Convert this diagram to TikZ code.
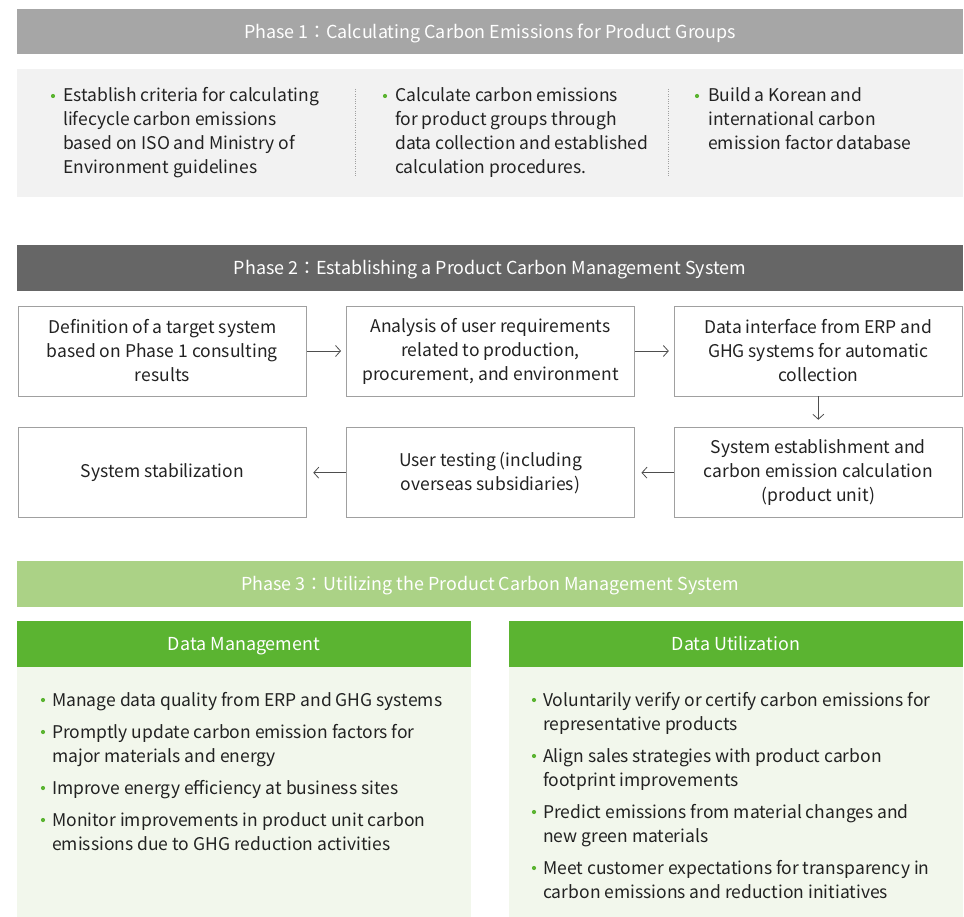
\documentclass[tikz,border=0pt]{standalone}
\usepackage{fontspec}
\setmainfont{Noto Sans CJK KR}
\usetikzlibrary{arrows.meta}

\definecolor{barone}{HTML}{A6A6A6}
\definecolor{bodyone}{HTML}{F2F2F2}
\definecolor{bartwo}{HTML}{666666}
\definecolor{barthree}{HTML}{ABD286}
\definecolor{leafgreen}{HTML}{5BB431}
\definecolor{bodythree}{HTML}{F2F7EC}
\definecolor{boxgray}{HTML}{A0A0A0}
\definecolor{inkgray}{HTML}{222222}

\begin{document}
\begin{tikzpicture}[x=1pt,y=-1pt,
  bar/.style={minimum width=946pt,minimum height=45.5pt,inner sep=0pt,text height=14pt,text depth=0pt,text=white,font=\fontsize{17.9}{20}\selectfont},
  subbar/.style={fill=leafgreen,minimum width=454pt,minimum height=45.5pt,inner sep=0pt,text height=14pt,text depth=0pt,text=white,font=\fontsize{17.9}{20}\selectfont},
  stepbox/.style={draw=boxgray,line width=0.9pt,minimum width=288pt,minimum height=90pt,align=center,inner sep=0pt,text=inkgray,font=\fontsize{17.5}{24}\selectfont},
  flow/.style={-{Straight Barb[length=5pt,width=11pt]},line width=0.8pt,draw=inkgray!80},
  itemtext/.style={anchor=base west,align=left,inner sep=0pt,text=inkgray,font=\fontsize{17.5}{24}\selectfont}]
  \useasboundingbox (0,0) rectangle (964,917);

  % phase 1
  \node[bar,fill=barone] (ph1) at (490,31.7) {Phase 1：Calculating Carbon Emissions for Product Groups};
  \fill[bodyone] (17,69) rectangle (963,197.5);
  \draw[dotted,boxgray] (355,89) -- (355,176);
  \draw[dotted,boxgray] (668,89) -- (668,176);
  % base = last line
  \node[itemtext] (crit) at (63,174) {Establish criteria for calculating\\lifecycle carbon emissions\\based on ISO and Ministry of\\Environment guidelines};
  \node[itemtext] (calc) at (395,174) {Calculate carbon emissions\\for product groups through\\data collection and established\\calculation procedures.};
  \node[itemtext] (dbase) at (708,150) {Build a Korean and\\international carbon\\emission factor database};
  \foreach \x in {53,385,697} \fill[leafgreen] (\x,96) circle (2.1);

  % phase 2
  \node[bar,fill=bartwo] (ph2) at (490,268) {Phase 2：Establishing a Product Carbon Management System};
  \node[stepbox] (target) at (162.3,351) {Definition of a target system\\based on Phase 1 consulting\\results};
  \node[stepbox] (needs) at (490.5,351) {Analysis of user requirements\\related to production,\\procurement, and environment};
  \node[stepbox] (iface) at (818.3,351) {Data interface from ERP and\\GHG systems for automatic\\collection};
  \node[stepbox] (build) at (818.3,472.7) {System establishment and\\carbon emission calculation\\(product unit)};
  \node[stepbox] (usertest) at (490.5,472.7) {User testing (including\\overseas subsidiaries)};
  \node[stepbox] (stable) at (162.3,472.7) {System stabilization};
  \draw[flow,shorten >=5pt] (target) -- (needs);
  \draw[flow,shorten >=5pt] (needs) -- (iface);
  \draw[flow,shorten >=7.5pt] (iface) -- (build);
  \draw[flow,shorten >=6.5pt] (build) -- (usertest);
  \draw[flow,shorten >=6.5pt] (usertest) -- (stable);

  % phase 3
  \node[bar,fill=barthree] (ph3) at (490,583.8) {Phase 3：Utilizing the Product Carbon Management System};
  \node[subbar] (mgmt) at (244,643.8) {Data Management};
  \node[subbar] (util) at (736,643.8) {Data Utilization};
  \fill[bodythree] (17,666.5) rectangle (471,917);
  \fill[bodythree] (509,666.5) rectangle (963,917);
  \node[itemtext] (mgmtlist) at (52,850) {Manage data quality from ERP and GHG systems\\[8pt]
    Promptly update carbon emission factors for\\major materials and energy\\[8pt]
    Improve energy efficiency at business sites\\[8pt]
    Monitor improvements in product unit carbon\\emissions due to GHG reduction activities};
  \node[itemtext] (utillist) at (543,898) {Voluntarily verify or certify carbon emissions for\\representative products\\[8pt]
    Align sales strategies with product carbon\\footprint improvements\\[8pt]
    Predict emissions from material changes and\\new green materials\\[8pt]
    Meet customer expectations for transparency in\\carbon emissions and reduction initiatives};
  \foreach \y in {706,738,794,826} \fill[leafgreen] (43,\y-6) circle (2.1);
  \foreach \y in {706,762,818,874} \fill[leafgreen] (534,\y-6) circle (2.1);
\end{tikzpicture}
\end{document}
